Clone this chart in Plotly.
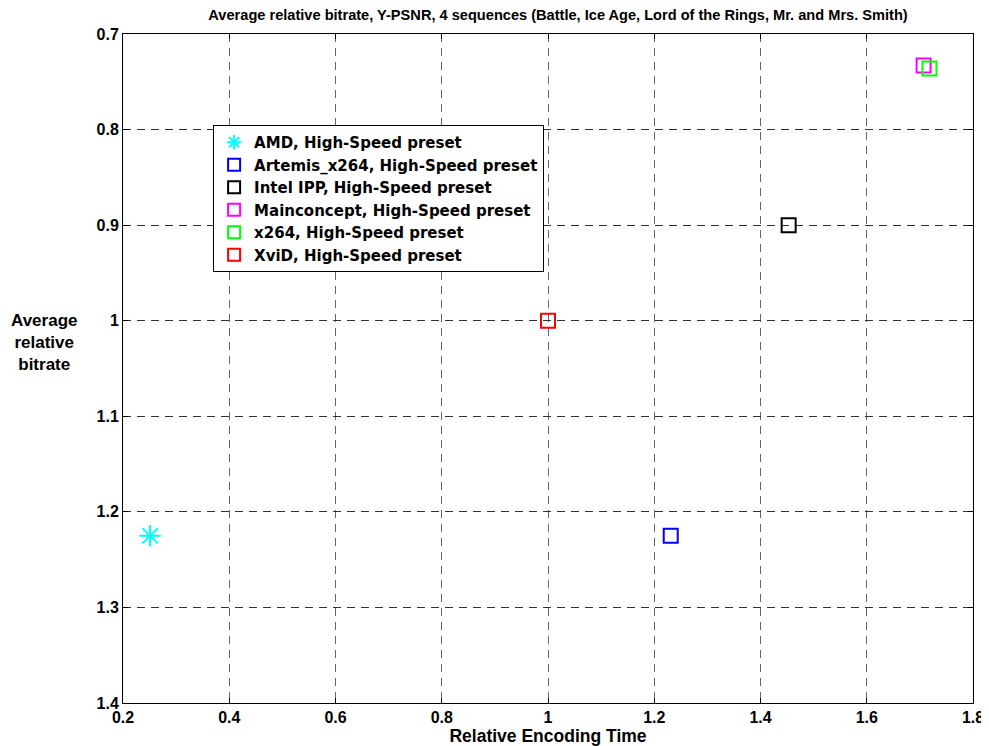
import plotly.graph_objects as go

names = ["AMD, High-Speed preset", "Artemis_x264, High-Speed preset",
         "Intel IPP, High-Speed preset", "Mainconcept, High-Speed preset",
         "x264, High-Speed preset", "XviD, High-Speed preset"]
enc_time = [0.251, 1.231, 1.453, 1.707, 1.718, 1.0]
rel_bitrate = [1.225, 1.225, 0.900, 0.733, 0.736, 1.0]
colors = ["#00FFFF", "#0000FF", "#000000", "#FF00FF", "#00FF00", "#FF0000"]
symbols = ["asterisk-open", "square-open", "square-open", "square-open", "square-open", "square-open"]
sizes = [18, 14, 14, 14, 14, 14]

x_ticks = [0.2, 0.4, 0.6, 0.8, 1.0, 1.2, 1.4, 1.6, 1.8]
y_ticks = [0.7, 0.8, 0.9, 1.0, 1.1, 1.2, 1.3, 1.4]

font = "Liberation Sans, Arial, sans-serif"
legend_font = "DejaVu Sans, Liberation Sans, sans-serif"

fig = go.Figure()
for n, xv, yv, c, s, sz in zip(names, enc_time, rel_bitrate, colors, symbols, sizes):
    fig.add_trace(go.Scatter(
        x=[xv], y=[yv], mode="markers", name=n,
        marker=dict(symbol=s, size=sz, color=c, line=dict(color=c, width=2)),
    ))

axis_common = dict(
    showline=True, linecolor="black", linewidth=1, mirror="ticks",
    ticks="inside", ticklen=5, tickcolor="black",
    showgrid=True, griddash="8px,6px", gridwidth=1,
    zeroline=False, automargin=False,
    tickfont=dict(family=font, size=16, color="black", weight="bold"),
)

# page body has an 8px margin, so the figure is made 8px smaller and margins shifted
fig.update_layout(
    width=981, height=738,
    margin=dict(l=115, r=16, t=26, b=43),
    paper_bgcolor="white", plot_bgcolor="white",
    font=dict(family=font, color="black"),
    title=dict(text="Average relative bitrate, Y-PSNR, 4 sequences (Battle, Ice Age, Lord of the Rings, Mr. and Mrs. Smith)",
               x=0.5607, xanchor="center", y=0.9905, yanchor="middle",
               font=dict(family=font, size=14.6, color="black", weight="bold")),
    xaxis=dict(range=[0.2, 1.8], tickvals=x_ticks, gridcolor="#666666",
               title=dict(text="Relative Encoding Time", standoff=1,
                          font=dict(family=font, size=17.5, color="black", weight="bold")),
               **axis_common),
    yaxis=dict(range=[1.4, 0.7], tickvals=y_ticks, gridcolor="#333333", **axis_common),
    legend=dict(x=0.106, y=0.864, xanchor="left", yanchor="top",
                bgcolor="white", bordercolor="black", borderwidth=1,
                font=dict(family=legend_font, size=15, color="black", weight="bold"),
                itemsizing="constant"),
    showlegend=True,
)

fig.add_annotation(text="Average<br>relative<br>bitrate", xref="paper", yref="paper",
                   x=-0.0935, y=0.5395, xanchor="center", yanchor="middle", showarrow=False,
                   font=dict(family=font, size=17, color="black", weight="bold"))

fig.write_html("out.html")
